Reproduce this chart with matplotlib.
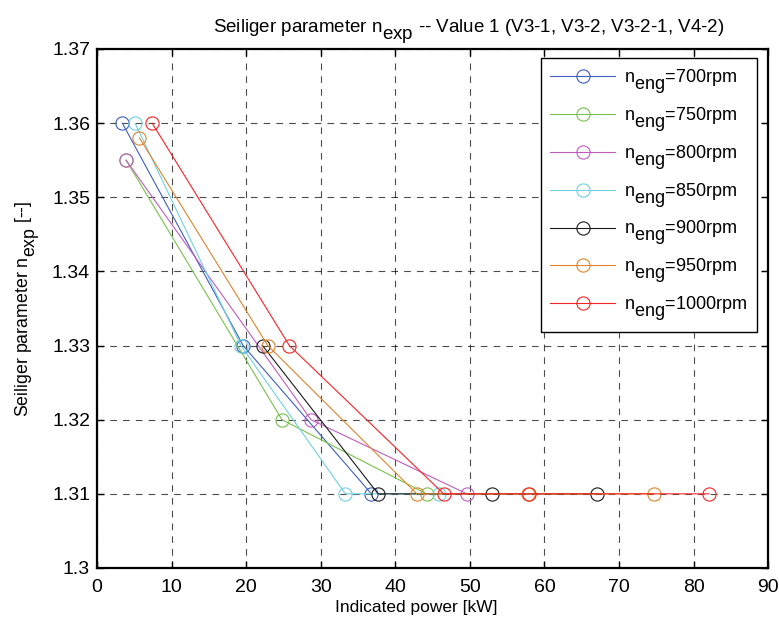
import matplotlib
matplotlib.use("Agg")
import matplotlib.pyplot as plt
import matplotlib._mathtext as _mt

# Subscripts are set at the same size as the body text and dropped lower
_mt.SHRINK_FACTOR = 1.0
_mt.FontConstantsBase.sub1 = 0.75

plt.rcParams['font.family'] = ['Liberation Sans', 'DejaVu Sans']
plt.rcParams['mathtext.fontset'] = 'custom'
plt.rcParams['mathtext.rm'] = 'Liberation Sans'
plt.rcParams['mathtext.it'] = 'Liberation Sans'

# Engine speed series: indicated power [kW] and Seiliger expansion exponent
speeds = [700, 750, 800, 850, 900, 950, 1000]
power = {
    700: [3.4, 19.6, 36.8],
    750: [3.9, 24.8, 44.2],
    800: [3.9, 28.7, 49.6],
    850: [5.1, 19.3, 33.3, 45.9],
    900: [22.2, 37.7, 53.0, 67.0],
    950: [5.7, 22.9, 42.9, 57.8, 74.7],
    1000: [7.4, 25.8, 46.5, 58.0, 82.1],
}
n_exp = {
    700: [1.36, 1.33, 1.31],
    750: [1.355, 1.32, 1.31],
    800: [1.355, 1.32, 1.31],
    850: [1.36, 1.33, 1.31, 1.31],
    900: [1.33, 1.31, 1.31, 1.31],
    950: [1.358, 1.33, 1.31, 1.31, 1.31],
    1000: [1.36, 1.33, 1.31, 1.31, 1.31],
}
colors = ['#3f5fbd', '#78c24c', '#c05cc0', '#6fd2e2', '#1a1a1a', '#e0842c', '#f52424']

x_ticks = [0, 10, 20, 30, 40, 50, 60, 70, 80, 90]
y_ticks = [1.30, 1.31, 1.32, 1.33, 1.34, 1.35, 1.36, 1.37]
y_tick_labels = ['1.3', '1.31', '1.32', '1.33', '1.34', '1.35', '1.36', '1.37']

fig = plt.figure(figsize=(7.79, 6.32), dpi=100)
ax = fig.add_axes([0.1245, 0.1013, 0.8615, 0.8212])

for spd, col in zip(speeds, colors):
    ax.plot(power[spd], n_exp[spd], '-o', color=col, lw=0.8,
            markersize=9.5, markerfacecolor='none', markeredgewidth=0.8,
            label=r'n$_{\mathrm{eng}}$=%drpm' % spd)

ax.set_xlim(0, 90)
ax.set_ylim(1.30, 1.37)
ax.set_xticks(x_ticks)
ax.set_yticks(y_ticks)
ax.set_yticklabels(y_tick_labels)
ax.tick_params(direction='in', top=True, right=True, labelsize=14,
               length=5, width=1)
ax.tick_params(axis='x', pad=8)
ax.tick_params(axis='y', pad=5)
for s in ax.spines.values():
    s.set_linewidth(1.6)

ax.grid(True, color='black', linestyle=(0, (6, 5.5)), linewidth=0.8, alpha=0.7)
ax.set_axisbelow(True)

ax.set_title(r'Seiliger parameter n$_{\mathrm{exp}}$ -- Value 1 (V3-1, V3-2, V3-2-1, V4-2)',
             fontsize=13.5, pad=12, x=0.554)
ax.set_xlabel('Indicated power [kW]', fontsize=12.5, labelpad=1)
ax.xaxis.set_label_coords(0.475, -0.062)
ax.set_ylabel(r'Seiliger parameter n$_{\mathrm{exp}}$ [--]', fontsize=12.8, labelpad=7)

leg = ax.legend(loc='upper right', bbox_to_anchor=(0.983, 0.982), fontsize=13,
                frameon=True, fancybox=False, framealpha=1, edgecolor='black',
                handlelength=3.6, borderpad=0.5, labelspacing=0.52,
                handletextpad=0.5, borderaxespad=0)
leg.get_frame().set_linewidth(1.0)

fig.savefig('out.png', dpi=100)
